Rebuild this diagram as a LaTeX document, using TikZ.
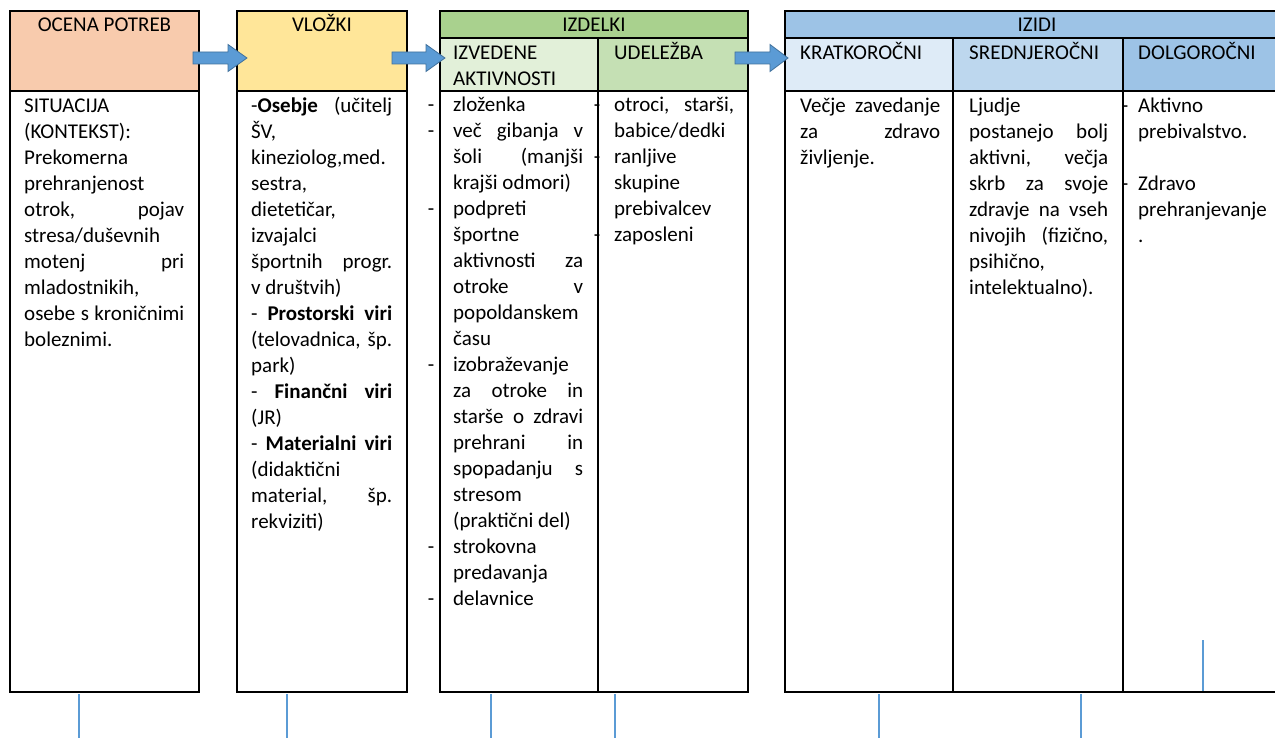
\documentclass[tikz,border=0pt]{standalone}
\usepackage{fontspec}
\setmainfont{Carlito}
\usetikzlibrary{positioning}
\hyphenpenalty=10000
\exhyphenpenalty=10000
\tolerance=9999

\definecolor{needsclr}{HTML}{F8CBAD}
\definecolor{inputclr}{HTML}{FFE699}
\definecolor{outputclr}{HTML}{A9D18E}
\definecolor{activclr}{HTML}{E2F0D9}
\definecolor{partclr}{HTML}{C5E0B4}
\definecolor{outcomeclr}{HTML}{9DC3E6}
\definecolor{shortclr}{HTML}{DEEBF7}
\definecolor{midclr}{HTML}{BDD7EE}
\definecolor{longclr}{HTML}{9DC3E6}
\definecolor{arrowclr}{HTML}{5B9BD5}
\definecolor{arrowedge}{HTML}{41719C}

\newcommand{\lefttick}[1]{\leavevmode\llap{-\hspace{#1pt}}}
\newcommand{\blockarrow}[4]{%
	\filldraw[flowarrow] (#1,#4-6) -- (#2,#4-6) -- (#2,#4-13.5) -- (#3,#4) -- (#2,#4+13.5) -- (#2,#4+6) -- (#1,#4+6) -- cycle;}

\tikzset{
	frame/.style={draw=black,line width=2pt},
	cellline/.style={draw=black,line width=1.3pt},
	celltext/.style={anchor=base west,inner sep=0pt,align=justify,font=\fontsize{21}{26}\selectfont},
	headtext/.style={anchor=base,inner sep=0pt,font=\fontsize{21}{26}\selectfont},
	subhead/.style={anchor=base west,inner sep=0pt,text width=150pt,align=left,font=\fontsize{21}{26}\selectfont},
	flowarrow/.style={fill=arrowclr,draw=arrowedge,line width=0.8pt},
	guide/.style={draw=arrowclr,line width=1.3pt},
}

\begin{document}
\begin{tikzpicture}[x=1pt,y=-1pt]
	\useasboundingbox (0,0) rectangle (1275,738);
	% header fills
	\fill[needsclr] (10,11) rectangle (199,91);
	\fill[inputclr] (237,11) rectangle (407,91);
	\fill[outputclr] (440,11) rectangle (748,38);
	\fill[activclr] (440,38) rectangle (598,91);
	\fill[partclr] (598,38) rectangle (748,91);
	\fill[outcomeclr] (785,11) rectangle (1289,38);
	\fill[shortclr] (785,38) rectangle (953,91);
	\fill[midclr] (953,38) rectangle (1123,91);
	\fill[longclr] (1123,38) rectangle (1289,91);

	% headers
	\node[headtext] (needs) at (104.5,32) {OCENA POTREB};
	\node[headtext] (inputs) at (322,32) {VLOŽKI};
	\node[headtext] (outputs) at (594,32) {IZDELKI};
	\node[headtext] (outcomes) at (1037,32) {IZIDI};
	\node[subhead] (activ) at (453,60) {IZVEDENE\\AKTIVNOSTI};
	\node[subhead] (part) at (614,60) {UDELEŽBA};
	\node[subhead] (short) at (800,60) {KRATKOROČNI};
	\node[subhead] (mid) at (969,60) {SREDNJEROČNI};
	\node[subhead] (long) at (1138,60) {DOLGOROČNI};

	% cell contents
	\node[celltext,text width=160pt] (situation) at (24,113) {SITUACIJA\\ (KONTEKST):\\ Prekomerna\\ prehranjenost\\ otrok, pojav\linebreak stresa/duševnih\\ motenj pri\linebreak mladostnikih,\\ osebe s kroničnimi\linebreak boleznimi.};
	\node[celltext,text width=141pt] (resources) at (251,113) {-\textbf{Osebje} (učitelj\linebreak ŠV,\\ kineziolog,med.\\ sestra,\\ dietetičar,\\ izvajalci\\ športnih progr.\linebreak v društvih)\par - \textbf{Prostorski viri}\linebreak (telovadnica, šp.\linebreak park)\par - \textbf{Finančni viri}\linebreak (JR)\par - \textbf{Materialni viri}\linebreak (didaktični\\ material, šp.\linebreak rekviziti)};
	\node[celltext,text width=130pt] (activities) at (453,112) {\lefttick{19}zloženka\par \lefttick{19}več gibanja v\linebreak šoli (manjši\linebreak krajši odmori)\par \lefttick{19}podpreti\\ športne\\ aktivnosti za\linebreak otroke v\linebreak popoldanskem\\ času\par \lefttick{19}izobraževanje\\ za otroke in\linebreak starše o zdravi\linebreak prehrani in\linebreak spopadanju s\linebreak stresom\\ (praktični del)\par \lefttick{19}strokovna\\ predavanja\par \lefttick{19}delavnice};
	\node[celltext,text width=120pt] (participants) at (614,112) {\lefttick{14}otroci, starši,\linebreak babice/dedki\par \lefttick{14}ranljive\\ skupine\\ prebivalcev\par \lefttick{14}zaposleni};
	\node[celltext,text width=140pt] (shortterm) at (800,113) {Večje zavedanje\linebreak za zdravo\linebreak življenje.};
	\node[celltext,text width=139pt] (midterm) at (969,113) {Ljudje\\ postanejo bolj\linebreak aktivni, večja\linebreak skrb za svoje\linebreak zdravje na vseh\linebreak nivojih (fizično,\linebreak psihično,\\ intelektualno).};
	\node[celltext,text width=132pt] (longterm) at (1138,113) {\lefttick{10}Aktivno\\ prebivalstvo.\par\mbox{}\par \lefttick{10}Zdravo\\ prehranjevanje\par .};

	% frames
	\draw[frame] (10,11) rectangle (199,692);
	\draw[frame] (10,91) -- (199,91);
	\draw[frame] (237,11) rectangle (407,692);
	\draw[frame] (237,91) -- (407,91);
	\draw[frame] (440,11) rectangle (748,692);
	\draw[cellline] (440,38) -- (748,38);
	\draw[frame] (440,91) -- (748,91);
	\draw[cellline] (598,38) -- (598,692);
	\draw[frame] (785,11) rectangle (1289,692);
	\draw[cellline] (785,38) -- (1289,38);
	\draw[frame] (785,91) -- (1289,91);
	\draw[cellline] (953,38) -- (953,692);
	\draw[cellline] (1123,38) -- (1123,692);

	% arrows between the stages
	\blockarrow{193}{228}{247}{58}
	\blockarrow{392}{426}{445}{58}
	\blockarrow{735}{770}{788}{58}

	% thin guide lines
	\foreach \gx in {79,287,491,615,879,1081}
	{ \draw[guide] (\gx,694) -- (\gx,738);
	}
	\draw[guide] (1203,640) -- (1203,691);
\end{tikzpicture}
\end{document}
